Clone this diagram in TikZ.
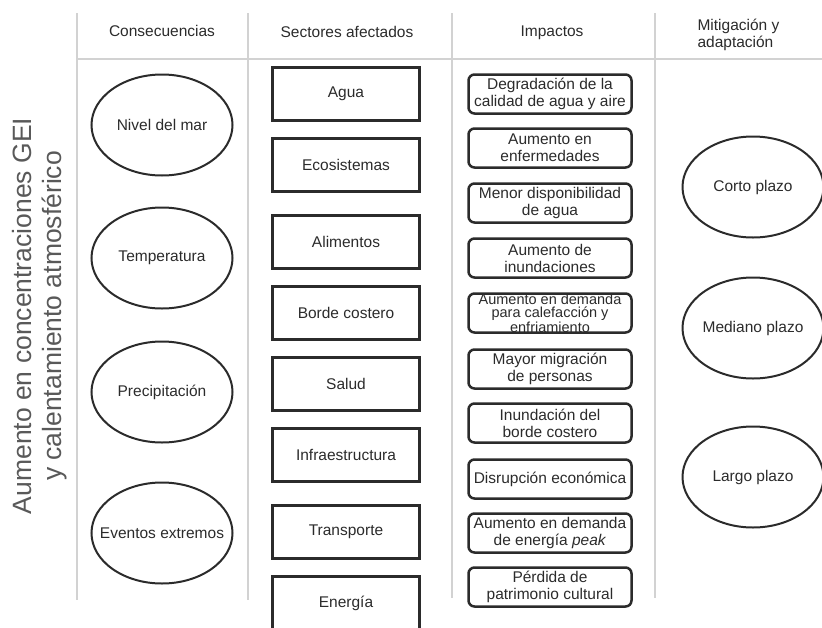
\documentclass[tikz,border=0pt]{standalone}
\usepackage{fontspec}
\setmainfont{Liberation Sans}
\usepackage{tikz}
\usetikzlibrary{shapes.geometric}
\definecolor{grid}{HTML}{D2D2D2}
\definecolor{ink}{HTML}{2B2B2B}

\begin{document}
\begin{tikzpicture}[x=1pt, y=-1pt,
        every node/.style={font=\fontsize{15.5}{17}\selectfont, text=ink},
        cons/.style={ellipse, draw=ink, line width=2pt, minimum width=141pt, minimum height=101pt, inner sep=0pt, inner xsep=-16pt},
        sector/.style={draw=ink, line width=2.5pt, minimum width=147pt, minimum height=53pt},
        impacto/.style={draw=ink, line width=2.5pt, rounded corners=6pt, minimum width=163pt, minimum height=39pt, inner sep=0pt, align=center}]
        \useasboundingbox (0,0) rectangle (822,627);
        \clip (0,0) rectangle (822,627);

        \draw [grid, line width=1.5pt] (77,13) -- (77,600);
        \draw [grid, line width=1.5pt] (248,13) -- (248,600);
        \draw [grid, line width=1.5pt] (452,13) -- (452,598);
        \draw [grid, line width=1.5pt] (655,13) -- (655,598);
        \draw [grid, line width=1.5pt] (77,59) -- (822,59);

        \node at (162,31) (h1) {Consecuencias};
        \node at (347,32) (h2) {Sectores afectados};
        \node at (552,33) (h3) {Impactos};
        \node[align=left, anchor=west] at (694,35) (h4) {Mitigación y\\adaptación};

        \node[rotate=90, align=center, text=black!65, font=\fontsize{26.5}{30}\selectfont] at (40,316) (gei) {Aumento en concentraciones GEI\\y calentamiento atmosférico};

        \node[cons] at (162,125) (mar) {Nivel del mar};
        \node[cons] at (162,258) (temp) {Temperatura};
        \node[cons] at (162,392) (prec) {Precipitación};
        \node[cons] at (162,533) (ext) {Eventos extremos};

        \node[sector] at (346,94)  (agua) {Agua};
        \node[sector] at (346,165) (eco) {Ecosistemas};
        \node[sector] at (346,242) (alim) {Alimentos};
        \node[sector] at (346,313) (borde) {Borde costero};
        \node[sector] at (346,384) (salud) {Salud};
        \node[sector] at (346,455) (infra) {Infraestructura};
        \node[sector] at (346,532) (transp) {Transporte};
        \node[sector] at (346,603) (energ) {Energía};

        \node[impacto] at (550,94)  (i1) {Degradación de la\\calidad de agua y aire};
        \node[impacto] at (550,148) (i2) {Aumento en\\enfermedades};
        \node[impacto] at (550,203) (i3) {Menor disponibilidad\\de agua};
        \node[impacto] at (550,258) (i4) {Aumento de\\inundaciones};
        \node[impacto, font=\fontsize{14.5}{13.5}\selectfont] at (550,313) (i5) {Aumento en demanda\\para calefacción y\\enfriamiento};
        \node[impacto] at (550,369) (i6) {Mayor migración\\de personas};
        \node[impacto] at (550,423) (i7) {Inundación del\\borde costero};
        \node[impacto] at (550,479) (i8) {Disrupción económica};
        \node[impacto] at (550,533) (i9) {Aumento en demanda\\de energía \textit{peak}};
        \node[impacto] at (550,587) (i10) {Pérdida de\\patrimonio cultural};

        \node[cons] at (753,187) (corto) {Corto plazo};
        \node[cons] at (753,328) (mediano) {Mediano plazo};
        \node[cons] at (753,477) (largo) {Largo plazo};
    \end{tikzpicture}
\end{document}
